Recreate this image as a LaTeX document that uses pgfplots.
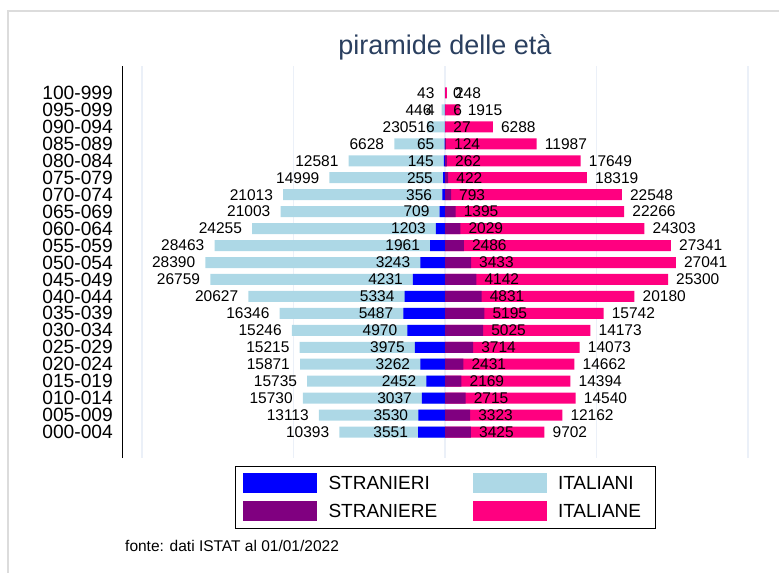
\documentclass[border=0pt]{standalone}
\usepackage{fontspec}
\setmainfont{Liberation Sans}
\usepackage{pgfplots}
\usepackage{pgfplotstable}
\pgfplotsset{compat=1.18}

\definecolor{stranieri}{HTML}{0000FF}
\definecolor{italiani}{HTML}{ADD8E6}
\definecolor{straniere}{HTML}{800080}
\definecolor{italiane}{HTML}{FF0080}
\definecolor{titlec}{HTML}{2A3F5F}
\definecolor{gridc}{HTML}{EBF0F8}
\definecolor{bordc}{HTML}{DCDCDC}

\newcommand\tickfont{\fontsize{19.2bp}{22bp}\selectfont}
\newcommand\lblfont{\fontsize{15.5bp}{18bp}\selectfont}
\newcommand\legfont{\fontsize{19bp}{22bp}\selectfont}
\newcommand\titlefont{\fontsize{27bp}{31bp}\selectfont}

% k = classe d'eta (0 = 000-004), sm/im = stranieri/italiani, sf/if = straniere/italiane
\pgfplotstableread{
k  sm   im    sf   if
0  3551 10393 3425 9702
1  3530 13113 3323 12162
2  3037 15730 2715 14540
3  2452 15735 2169 14394
4  3262 15871 2431 14662
5  3975 15215 3714 14073
6  4970 15246 5025 14173
7  5487 16346 5195 15742
8  5334 20627 4831 20180
9  4231 26759 4142 25300
10 3243 28390 3433 27041
11 1961 28463 2486 27341
12 1203 24255 2029 24303
13 709  21003 1395 22266
14 356  21013 793  22548
15 255  14999 422  18319
16 145  12581 262  17649
17 65   6628  124  11987
18 16   2305  27   6288
19 4    446   6    1915
20 0    43    0    248
}\datatab

\begin{document}
\begin{tikzpicture}
\useasboundingbox (0,0) rectangle (779bp,573bp);
\draw[bordc, line width=2bp] (8bp,0) -- (8bp,562bp) -- (779bp,562bp);

\begin{axis}[
  at={(122bp,115bp)}, anchor=south west,
  width=646bp, height=392bp, scale only axis,
  xmin=-42640, xmax=42640, ymin=-1.53, ymax=21.59,
  xbar, bar width=11bp,
  separate axis lines,
  axis x line*=bottom, x axis line style={draw=none},
  axis y line*=left, y axis line style={line width=1bp, black, -},
  scaled x ticks=false,
  xtick={-40000,-20000,0,20000,40000}, xticklabels={,,,,},
  xmajorgrids, major grid style={line width=1.5bp, color=gridc},
  ytick={0,...,20},
  yticklabels={000-004,005-009,010-014,015-019,020-024,025-029,030-034,
    035-039,040-044,045-049,050-054,055-059,060-064,065-069,070-074,
    075-079,080-084,085-089,090-094,095-099,100-999},
  major tick length=0pt,
  yticklabel style={font=\tickfont, inner sep=0pt, xshift=-9bp},
  point meta=explicit symbolic,
  nodes near coords={\pgfplotspointmeta},
  every node near coord/.append style={font=\lblfont, inner sep=0pt, text=black},
  clip=false,
  legend columns=2,
  legend cell align=left,
  legend image code/.code={\fill[#1] (0bp,-10bp) rectangle (74bp,10bp); \path (85.5bp,0bp);},
  legend style={at={(0.5,-0.0204)}, anchor=north, draw=black, line width=1bp,
    inner xsep=8bp, inner ysep=7bp, row sep=8bp, column sep=0pt,
    font=\legfont, nodes={inner sep=0pt}},
]
\addplot[xbar, bar shift=0pt, fill=italiani, draw=none, forget plot,
  every node near coord/.append style={anchor=east, xshift=-10bp}]
  table[y=k, x expr={-\thisrow{sm}-\thisrow{im}}, meta=im] {\datatab};
\addplot[xbar, bar shift=0pt, fill=stranieri, draw=none, forget plot,
  skip coords between index={20}{21},
  every node near coord/.append style={anchor=east, xshift=-10bp}]
  table[y=k, x expr={-\thisrow{sm}}, meta=sm] {\datatab};
\addplot[xbar, bar shift=0pt, fill=italiane, draw=none, forget plot,
  every node near coord/.append style={anchor=west, xshift=8bp}]
  table[y=k, x expr={\thisrow{sf}+\thisrow{if}}, meta=if] {\datatab};
\addplot[xbar, bar shift=0pt, fill=straniere, draw=none, forget plot,
  every node near coord/.append style={anchor=west, xshift=8bp}]
  table[y=k, x=sf, meta=sf] {\datatab};

\addlegendimage{fill=stranieri, draw=none}
\addlegendentry{\makebox[144bp][l]{STRANIERI}}
\addlegendimage{fill=italiani, draw=none}
\addlegendentry{\makebox[89bp][l]{ITALIANI}}
\addlegendimage{fill=straniere, draw=none}
\addlegendentry{\makebox[144bp][l]{STRANIERE}}
\addlegendimage{fill=italiane, draw=none}
\addlegendentry{\makebox[89bp][l]{ITALIANE}}
\end{axis}

\node[font=\titlefont, text=titlec, anchor=base] at (445bp,518bp) {piramide delle età};
\node[font=\lblfont, anchor=base west, inner sep=0pt] at (125bp,21.5bp) {fonte: dati ISTAT al 01/01/2022};
\end{tikzpicture}
\end{document}
